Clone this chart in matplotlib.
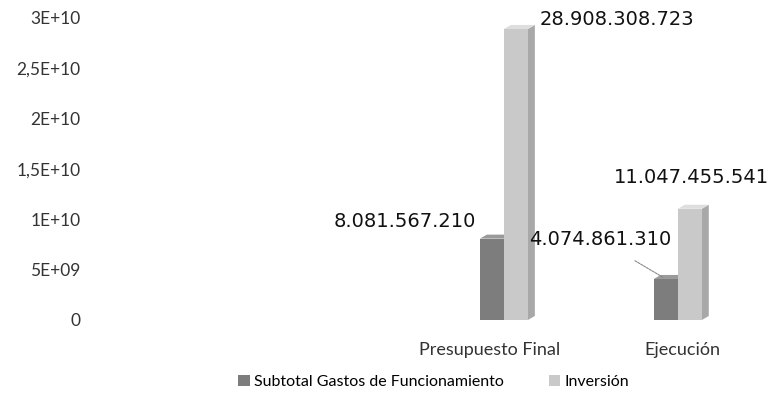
import matplotlib
matplotlib.use("Agg")
import matplotlib.pyplot as plt
import matplotlib.transforms as mtransforms
from matplotlib.patches import Patch
import numpy as np

categories = ["Presupuesto Final", "Ejecución"]
series_names = ["Subtotal Gastos de Funcionamiento", "Inversión"]
funcionamiento = [8081567210, 4074861310]
inversion = [28908308723, 11047455541]
ytick_values = [0, 5e9, 1e10, 1.5e10, 2e10, 2.5e10, 3e10]
ytick_labels = ["0", "5E+09", "1E+10", "1,5E+10", "2E+10", "2,5E+10", "3E+10"]

W, H = 772, 412
fig = plt.figure(figsize=(W / 100, H / 100), dpi=100)
ax = fig.add_axes([90 / W, 92 / H, 680 / W, 302 / H])
ax.set_xlim(-2.38, 1.53)
ax.set_ylim(0, 3e10)

x = np.arange(len(categories))
bw = 0.138
colors = ["#7d7d7d", "#c9c9c9"]
side_colors = ["#5e5e5e", "#a8a8a8"]
top_colors = ["#9a9a9a", "#dedede"]
dx = 0.04          # depth in x (data units)
dy = 4.0e8         # depth in y (data units)

for si, (vals, off) in enumerate([(funcionamiento, -bw / 2), (inversion, bw / 2)]):
    xs = x + off
    ax.bar(xs, vals, width=bw, color=colors[si], edgecolor="none", zorder=3 + si, linewidth=0)
    for xi, v in zip(xs, vals):
        r = xi + bw / 2
        l = xi - bw / 2
        ax.fill([r, r + dx, r + dx, r], [0, dy, v + dy, v], color=side_colors[si],
                zorder=2 + si, lw=0)
        ax.fill([l, l + dx, r + dx, r], [v, v + dy, v + dy, v], color=top_colors[si],
                zorder=2 + si, lw=0)

def fmt(v):
    return f"{v:,}".replace(",", ".")

lab_font = dict(fontsize=14, family="DejaVu Sans", color="#111111")
ax.annotate(fmt(funcionamiento[0]), (x[0] - bw, funcionamiento[0]), xytext=(-4, 17),
            textcoords="offset pixels", ha="right", va="center", **lab_font)
ax.annotate(fmt(inversion[0]), (x[0] + bw, inversion[0]), xytext=(12, 9),
            textcoords="offset pixels", ha="left", va="center", **lab_font)
ax.annotate(fmt(funcionamiento[1]), (x[1] - bw / 2, funcionamiento[1]), xytext=(-66, 39),
            textcoords="offset pixels", ha="center", va="center",
            arrowprops=dict(arrowstyle="-", color="#888888", lw=0.8, linestyle=(0, (2, 1)),
                            shrinkA=12, shrinkB=2), **lab_font)
ax.annotate(fmt(inversion[1]), (x[1] + bw / 2, inversion[1]), xytext=(2, 31),
            textcoords="offset pixels", ha="center", va="center", **lab_font)

ax.set_yticks(ytick_values)
ax.set_yticklabels(ytick_labels, family="Lato", fontsize=12.5, color="#333333")
ax.set_xticks(x)
ax.set_xticklabels(categories, family="Lato", fontsize=13, color="#333333")
ax.tick_params(axis="both", length=0)
ax.tick_params(axis="x", pad=16)
ax.tick_params(axis="y", pad=7)
for lbl, shift in zip(ax.get_xticklabels(), [-14, 5]):
    lbl.set_transform(lbl.get_transform() + mtransforms.ScaledTranslation(shift / 100, 0, fig.dpi_scale_trans))
for s in ax.spines.values():
    s.set_visible(False)

handles = [Patch(facecolor=colors[0], edgecolor="none"),
           Patch(facecolor=colors[1], edgecolor="none")]
fig.legend(handles, series_names, loc="center", bbox_to_anchor=(434 / W, 30 / H), ncol=2,
           frameon=False, handlelength=0.7, handleheight=0.7, handletextpad=0.3,
           columnspacing=2.8, prop=dict(family="Lato", size=11.5))

fig.savefig("out.png", dpi=100)
